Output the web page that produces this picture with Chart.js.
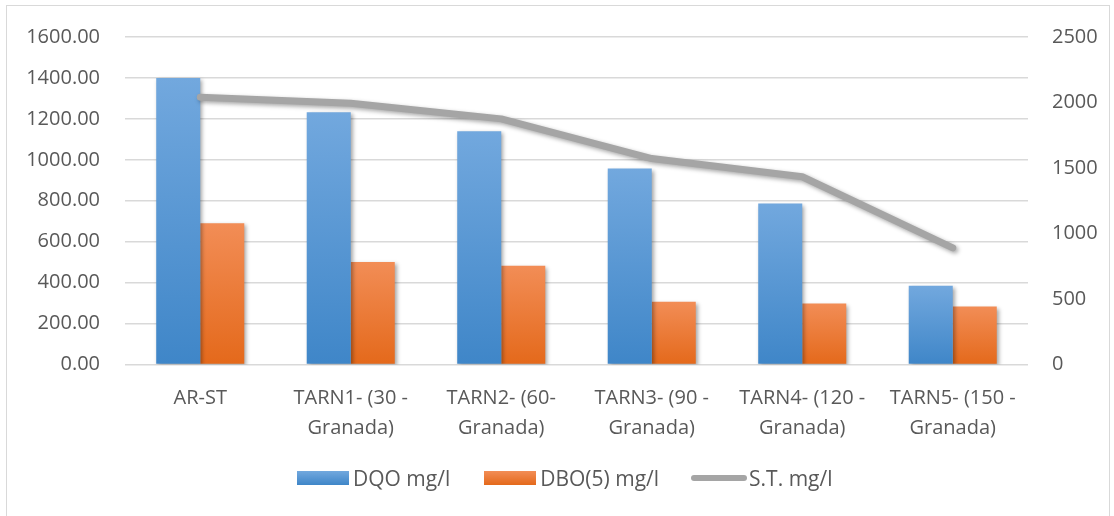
<!DOCTYPE html>
<html lang="es">
<head>
<meta charset="UTF-8">
<title>DQO / DBO / S.T.</title>
<script src="https://cdn.jsdelivr.net/npm/chart.js"></script>
<style>
  * { margin: 0; padding: 0; box-sizing: border-box; }
  body { width: 1114px; height: 516px; background: #fff; overflow: hidden; position: relative; font-family: "Open Sans", sans-serif; color: #595959; }
  .frame { position: absolute; left: 6px; top: 5px; width: 1104px; height: 520px; border: 1px solid #d9d9d9; border-width: 1.5px 1.5px 0 1.5px; }
  .wrap { position: absolute; left: 0; top: 0; width: 1114px; height: 516px; }
  .legend { position: absolute; left: 297px; top: 464px; display: flex; align-items: center; font-size: 21px; }
  .item { display: flex; align-items: center; }
  .box { width: 52px; height: 14px; margin-right: 4px; }
  .blue { background: linear-gradient(#72a8de, #3f86c8); }
  .orange { background: linear-gradient(#f28d56, #e4691b); }
  .line { width: 56px; height: 6px; border-radius: 3px; background: #a5a5a5; margin-right: 2px; }
</style>
</head>
<body>
<div class="frame"></div>
<div class="wrap"><canvas id="chart"></canvas></div>
<div class="legend">
  <div class="item" style="margin-right:34px"><span class="box blue"></span>DQO mg/l</div>
  <div class="item" style="margin-right:32px"><span class="box orange"></span>DBO(5) mg/l</div>
  <div class="item"><span class="line"></span>S.T. mg/l</div>
</div>
<script>
const categories = [
  ['AR-ST'],
  ['TARN1- (30 -', 'Granada)'],
  ['TARN2- (60-', 'Granada)'],
  ['TARN3- (90 -', 'Granada)'],
  ['TARN4- (120 -', 'Granada)'],
  ['TARN5- (150 -', 'Granada)']
];
const dqo = [1400, 1232, 1140, 957, 786, 385];
const dbo = [690, 501, 482, 307, 298, 283];
const st = [2040, 1995, 1875, 1572, 1433, 890];
const leftTicks = [0, 200, 400, 600, 800, 1000, 1200, 1400, 1600];
const rightTicks = [0, 500, 1000, 1500, 2000, 2500];

const FONT = '"Open Sans", sans-serif';
const TEXT = '#595959';

// per-bar vertical gradient, lighter at the top
function barGradient(top, bottom) {
  return ctx => {
    const chart = ctx.chart;
    if (!chart.chartArea || ctx.raw == null) return bottom;
    const y = chart.scales.y;
    const g = chart.ctx.createLinearGradient(0, y.getPixelForValue(ctx.raw), 0, y.getPixelForValue(0));
    g.addColorStop(0, top);
    g.addColorStop(1, bottom);
    return g;
  };
}

const shadow = {
  id: 'shadow',
  beforeDatasetDraw(chart) {
    const c = chart.ctx;
    c.save();
    c.shadowColor = 'rgba(0,0,0,0.35)';
    c.shadowBlur = 4;
    c.shadowOffsetX = 2;
    c.shadowOffsetY = 2;
  },
  afterDatasetDraw(chart) { chart.ctx.restore(); }
};

new Chart(document.getElementById('chart'), {
  type: 'bar',
  data: {
    labels: categories,
    datasets: [
      { label: 'DQO mg/l', data: dqo, yAxisID: 'y', order: 2, backgroundColor: barGradient('#72a8de', '#3f86c8'), barPercentage: 1, categoryPercentage: 0.585 },
      { label: 'DBO(5) mg/l', data: dbo, yAxisID: 'y', order: 3, backgroundColor: barGradient('#f28d56', '#e4691b'), barPercentage: 1, categoryPercentage: 0.585 },
      { type: 'line', label: 'S.T. mg/l', data: st, yAxisID: 'y1', order: 1, borderColor: '#a5a5a5', borderWidth: 7, pointRadius: 0, borderCapStyle: 'round', borderJoinStyle: 'round', tension: 0, fill: false }
    ]
  },
  options: {
    responsive: true,
    maintainAspectRatio: false,
    animation: false,
    layout: { padding: { top: 34, bottom: 0, left: 0, right: 0 } },
    plugins: { legend: { display: false }, tooltip: { enabled: false } },
    scales: {
      x: {
        grid: { display: false, drawTicks: false },
        border: { display: false },
        ticks: { color: TEXT, font: { family: FONT, size: 20, lineHeight: 1.5 }, padding: 19, maxRotation: 0, autoSkip: false },
        afterFit(s) { s.height = 151.5; }
      },
      y: {
        position: 'left',
        min: 0, max: 1600,
        afterBuildTicks(s) { s.ticks = leftTicks.map(v => ({ value: v })); },
        grid: { color: '#d9d9d9', lineWidth: 1.5, drawTicks: false },
        border: { display: false },
        ticks: { color: TEXT, font: { family: FONT, size: 20 }, padding: 25, callback: v => v.toFixed(2) },
        afterFit(s) { s.width = 125; }
      },
      y1: {
        position: 'right',
        min: 0, max: 2500,
        afterBuildTicks(s) { s.ticks = rightTicks.map(v => ({ value: v })); },
        grid: { display: false, drawTicks: false },
        border: { display: false },
        ticks: { color: TEXT, font: { family: FONT, size: 20 }, padding: 24, callback: v => String(v) },
        afterFit(s) { s.width = 86; }
      }
    }
  },
  plugins: [shadow]
});
</script>
</body>
</html>
